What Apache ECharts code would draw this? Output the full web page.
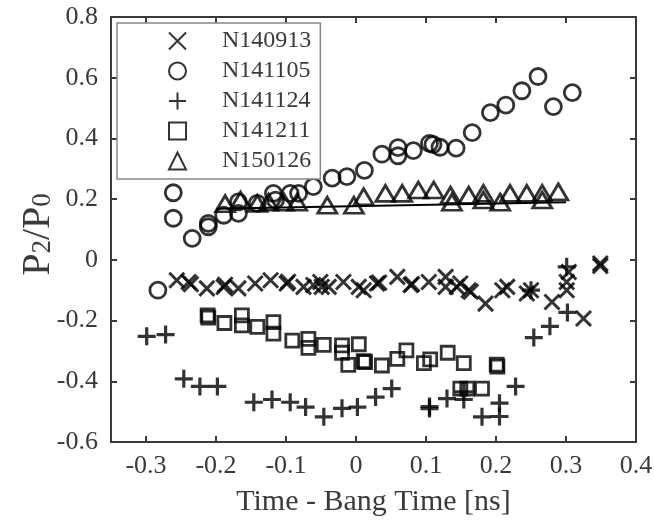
<!DOCTYPE html>
<html>
<head>
<meta charset="utf-8">
<script src="https://cdn.jsdelivr.net/npm/echarts@6/dist/echarts.min.js"></script>
<style>html,body{margin:0;padding:0;background:#fff}#c{width:654px;height:520px}</style>
</head>
<body>
<div id="c"></div>
<script>
const seriesNames = ['N140913', 'N141105', 'N141124', 'N141211', 'N150126'];
const xTickValues = [-0.3, -0.2, -0.1, 0, 0.1, 0.2, 0.3, 0.4];

const n140913 = [[-0.256,-0.067],[-0.239,-0.073],[-0.236,-0.08],[-0.213,-0.094],[-0.189,-0.089],[-0.187,-0.082],[-0.168,-0.094],[-0.144,-0.078],[-0.122,-0.067],[-0.099,-0.078],[-0.097,-0.072],[-0.075,-0.089],[-0.061,-0.083],[-0.051,-0.073],[-0.049,-0.089],[-0.039,-0.089],[-0.018,-0.073],[0.004,-0.089],[0.011,-0.1],[0.03,-0.078],[0.033,-0.075],[0.059,-0.056],[0.078,-0.083],[0.08,-0.08],[0.104,-0.073],[0.128,-0.056],[0.128,-0.089],[0.144,-0.089],[0.149,-0.078],[0.161,-0.1],[0.164,-0.105],[0.185,-0.144],[0.209,-0.1],[0.216,-0.089],[0.244,-0.111],[0.25,-0.1],[0.28,-0.139],[0.301,-0.1],[0.301,-0.073],[0.304,-0.04],[0.325,-0.193],[0.349,-0.012],[0.349,-0.02]];
const n141105 = [[-0.283,-0.1],[-0.261,0.221],[-0.261,0.137],[-0.234,0.071],[-0.211,0.109],[-0.211,0.12],[-0.189,0.147],[-0.168,0.153],[-0.168,0.191],[-0.141,0.186],[-0.118,0.219],[-0.115,0.197],[-0.094,0.219],[-0.082,0.219],[-0.061,0.241],[-0.034,0.269],[-0.013,0.274],[0.012,0.295],[0.037,0.348],[0.06,0.37],[0.06,0.343],[0.082,0.36],[0.105,0.384],[0.11,0.38],[0.12,0.371],[0.143,0.368],[0.166,0.419],[0.192,0.485],[0.214,0.51],[0.237,0.557],[0.26,0.604],[0.282,0.505],[0.309,0.551]];
const n141124 = [[-0.299,-0.252],[-0.272,-0.246],[-0.246,-0.392],[-0.223,-0.417],[-0.198,-0.417],[-0.146,-0.469],[-0.12,-0.46],[-0.094,-0.469],[-0.072,-0.485],[-0.046,-0.517],[-0.02,-0.489],[0.002,-0.485],[0.028,-0.452],[0.051,-0.424],[0.105,-0.483],[0.105,-0.49],[0.13,-0.457],[0.154,-0.46],[0.154,-0.435],[0.18,-0.517],[0.205,-0.516],[0.205,-0.472],[0.228,-0.417],[0.254,-0.256],[0.277,-0.219],[0.302,-0.173],[0.301,-0.023],[0.25,-0.1]];
const n141211 = [[-0.212,-0.183],[-0.211,-0.19],[-0.188,-0.208],[-0.163,-0.183],[-0.163,-0.216],[-0.141,-0.221],[-0.118,-0.205],[-0.118,-0.243],[-0.091,-0.266],[-0.068,-0.26],[-0.068,-0.29],[-0.046,-0.28],[-0.02,-0.282],[-0.02,-0.306],[-0.011,-0.346],[0.004,-0.278],[0.011,-0.334],[0.013,-0.337],[0.037,-0.348],[0.059,-0.326],[0.072,-0.298],[0.097,-0.34],[0.106,-0.328],[0.131,-0.306],[0.154,-0.34],[0.149,-0.424],[0.159,-0.424],[0.18,-0.424],[0.201,-0.345],[0.202,-0.352]];
const n150126 = [[-0.187,0.185],[-0.165,0.197],[-0.141,0.186],[-0.125,0.19],[-0.103,0.19],[-0.084,0.19],[-0.041,0.18],[-0.003,0.18],[0.011,0.208],[0.042,0.219],[0.066,0.219],[0.089,0.23],[0.111,0.23],[0.135,0.213],[0.137,0.19],[0.161,0.213],[0.182,0.219],[0.182,0.197],[0.206,0.19],[0.22,0.219],[0.244,0.219],[0.266,0.219],[0.266,0.197],[0.289,0.224]];
const n150126Fit = [[-0.2,0.168],[0.3,0.19]];

const INK = '#000';
const AX = '#3a3a3a';
const TXT = '#3a3a3a';
const FONT = '"Liberation Serif", "Times New Roman", serif';

const xPath = 'path://M0,0L10,10M0,10L10,0';
const plusPath = 'path://M5,0L5,10M0,5L10,5';

function sc(name, data, symbol, size, bw) {
  return {
    name: name, type: 'scatter', data: data, symbol: symbol, symbolSize: size,
    itemStyle: { color: 'rgba(0,0,0,0)', borderColor: INK, borderWidth: bw },
    emphasis: { disabled: true }, z: 3
  };
}

const fmt = v => String(+(+v).toFixed(1));

const chart = echarts.init(document.getElementById('c'), null, { renderer: 'canvas' });
chart.setOption({
  animation: false,
  backgroundColor: '#fff',
  grid: { left: 111, right: 18, top: 17, bottom: 78, containLabel: false, outerBoundsMode: 'none' },
  xAxis: [
    {
      type: 'value', min: -0.35, max: 0.4, position: 'bottom',
      name: 'Time - Bang Time [ns]', nameLocation: 'middle', nameGap: 45, nameMoveOverlap: false,
      nameTextStyle: { fontFamily: FONT, fontSize: 30, color: TXT },
      axisLine: { show: true, onZero: false, lineStyle: { color: AX, width: 2 } },
      axisTick: { show: true, inside: true, length: 6, customValues: xTickValues, lineStyle: { color: AX, width: 2 } },
      axisLabel: { customValues: xTickValues, formatter: fmt, fontFamily: FONT, fontSize: 26, color: TXT, margin: 11 },
      splitLine: { show: false }
    },
    {
      type: 'value', min: -0.35, max: 0.4, position: 'top',
      axisLine: { show: true, onZero: false, lineStyle: { color: AX, width: 2 } },
      axisTick: { show: true, inside: true, length: 6, customValues: xTickValues, lineStyle: { color: AX, width: 2 } },
      axisLabel: { show: false }, splitLine: { show: false }
    }
  ],
  yAxis: [
    {
      type: 'value', min: -0.6, max: 0.8, interval: 0.2, position: 'left',
      name: '{p|P}{s|2}{p|/P}{s|0}', nameLocation: 'middle', nameGap: 43, nameRotate: 90, nameMoveOverlap: false,
      nameTextStyle: {
        fontFamily: FONT, fontSize: 40, color: TXT, padding: [0, 10, 0, 0],
        rich: {
          p: { fontFamily: FONT, fontSize: 40, color: TXT, padding: [0, 0, 10, 0] },
          s: { fontFamily: FONT, fontSize: 27, color: TXT }
        }
      },
      axisLine: { show: true, onZero: false, lineStyle: { color: AX, width: 2 } },
      axisTick: { show: true, inside: true, length: 6, lineStyle: { color: AX, width: 2 } },
      axisLabel: { formatter: fmt, fontFamily: FONT, fontSize: 26, color: TXT, margin: 13 },
      splitLine: { show: false }
    },
    {
      type: 'value', min: -0.6, max: 0.8, interval: 0.2, position: 'right',
      axisLine: { show: true, onZero: false, lineStyle: { color: AX, width: 2 } },
      axisTick: { show: true, inside: true, length: 6, lineStyle: { color: AX, width: 2 } },
      axisLabel: { show: false }, splitLine: { show: false }
    }
  ],
  legend: {
    show: true, orient: 'vertical', left: 117, top: 23,
    padding: [4, 9, 4, 51], itemGap: 2, itemWidth: 17, itemHeight: 17,
    backgroundColor: '#fff', borderColor: '#888', borderWidth: 1.5,
    data: seriesNames,
    textStyle: { fontFamily: FONT, fontSize: 24, color: TXT, lineHeight: 28, padding: [0, 0, 0, 31] },
    selectedMode: false
  },
  series: [
    sc(seriesNames[0], n140913, xPath, 15, 3),
    sc(seriesNames[1], n141105, 'circle', 16, 2.8),
    sc(seriesNames[2], n141124, plusPath, 18, 3.2),
    sc(seriesNames[3], n141211, 'rect', 13, 2.8),
    sc(seriesNames[4], n150126, 'triangle', [19, 16], 2.8),
    {
      name: 'fit', type: 'line', data: n150126Fit, showSymbol: false, symbol: 'none',
      lineStyle: { color: INK, width: 2 }, z: 2, silent: true
    }
  ]
});
</script>
</body>
</html>
